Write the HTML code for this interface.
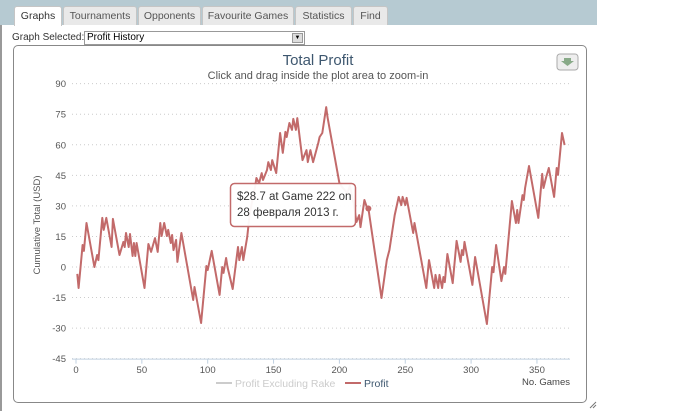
<!DOCTYPE html>
<html><head><meta charset="utf-8">
<style>
body{margin:0;width:700px;height:411px;background:#fff;font-family:"Liberation Sans","DejaVu Sans",sans-serif;position:relative;overflow:hidden}
.topbar{position:absolute;left:0;top:0;width:597px;height:25px;background:#b6cad2}
.tab{position:absolute;top:6px;height:18px;background:#e9e9e9;border:1px solid #c5c5c5;border-bottom:none;border-radius:3px 3px 0 0;font-size:10.5px;color:#555;text-align:center;line-height:18px}
.tab.active{background:#fff;color:#333;height:19px}
.leftline{position:absolute;left:0;top:25px;width:2px;height:386px;background:#999}
.sel-label{position:absolute;left:12px;top:32px;font-size:10px;color:#333}
.select{position:absolute;left:84px;top:31px;width:219px;height:12px;border:1px solid #999;font-size:10px;line-height:12px;padding-left:2px;box-sizing:border-box;width:221px;height:14px}
.select .arr{position:absolute;right:1px;top:1px;width:11px;height:10px;background:#ddd;border:1px solid #999;box-sizing:border-box;font-size:6px;text-align:center;line-height:8px}
.box{position:absolute;left:13px;top:45px;width:572px;height:356px;border:1px solid #888;border-radius:5px}
</style></head><body>
<div class="topbar"></div>
<div class="tab active" style="left:14px;width:46px">Graphs</div>
<div class="tab" style="left:63px;width:72px">Tournaments</div>
<div class="tab" style="left:138px;width:61px">Opponents</div>
<div class="tab" style="left:202px;width:90px">Favourite Games</div>
<div class="tab" style="left:295px;width:55px">Statistics</div>
<div class="tab" style="left:353px;width:33px">Find</div>
<div class="leftline"></div>
<div class="sel-label">Graph Selected:</div>
<div class="select">Profit History<div class="arr">▼</div></div>
<div class="box"></div>
<svg width="700" height="411" style="position:absolute;left:0;top:0" id="chart">
<text x="318" y="65" text-anchor="middle" font-size="15" fill="#3e576f">Total Profit</text>
<text x="318" y="79" text-anchor="middle" font-size="11" fill="#555">Click and drag inside the plot area to zoom-in</text>
<g><rect x="557" y="54" width="21" height="16" rx="3" fill="#eee" stroke="#aaa"/><path d="M564 58h7v3h3l-6.5 5-6.5-5h3z" fill="#8a8"/></g>
<text transform="translate(40,225) rotate(-90)" text-anchor="middle" font-size="9.5" fill="#555">Cumulative Total (USD)</text>
<g id="grid"></g><g id="series"></g>
<text x="570" y="385" text-anchor="end" font-size="9.5" fill="#444">No. Games</text>
<g><line x1="216" y1="383" x2="232" y2="383" stroke="#ccc" stroke-width="2"/><text x="235" y="387" font-size="10.5" fill="#ccc">Profit Excluding Rake</text></g>
<g><line x1="345" y1="383" x2="361" y2="383" stroke="#c26a6a" stroke-width="2"/><text x="364" y="387" font-size="10.5" fill="#3e576f">Profit</text></g>
<g><rect x="230.5" y="183.5" width="125" height="43" rx="4" fill="#fff" fill-opacity="0.95" stroke="#c26a6a" stroke-width="1.5"/><text x="237" y="200" font-size="11.5" fill="#333">$28.7 at Game 222 on</text><text x="237" y="216" font-size="11.5" fill="#333">28 февраля 2013 г.</text></g>
<path d="M590 408l6-6M593 408l3-3" stroke="#777"/>
</svg>
<script>
const games=[1,2,5,6,8,14,16,17,20,21,23,27,28,33,36,37,38,40,41,43,44,45,46,52,55,57,60,62,64,65,67,69,70,72,73,74,76,77,80,89,90,95,99,100,103,109,111,112,114,115,119,123,124,126,127,130,132,136,137,139,141,142,145,146,148,149,152,155,157,159,160,162,164,165,167,168,172,175,176,178,180,184,185,187,190,191,200,202,206,208,211,213,215,216,219,221,222,232,236,237,238,242,245,247,248,250,251,256,257,266,268,272,273,275,276,278,279,280,282,286,289,292,293,294,295,301,303,312,316,317,319,323,325,326,331,334,335,336,339,340,341,344,351,354,355,357,359,363,365,366,369,371];
const profit=[-3.4,-10.3,10.8,7.9,21.6,0,5.9,3.4,24.1,18.2,24.1,9.8,23.6,5.9,12.3,9.8,16.7,9.8,16.2,5.4,11.8,5.4,11.8,-10.3,11.3,7.4,14.2,7.4,21.6,15.2,21.6,15.2,18.2,11.8,15.7,8.3,13.3,2.5,16.7,-16.2,-9.8,-27.5,0.5,-1.5,7.9,-13.7,0,-2.9,4.4,0,-10.8,9.8,3.4,9.8,3.4,14.7,26.5,39.3,43.7,41.2,46.1,42.7,47.6,51.5,47.6,52.5,46.1,65.8,56,66.3,63.8,70.7,67.3,72.7,67.3,73.1,52.5,57.4,51.5,57.4,51.5,60.9,63.8,65.8,78.5,73.6,41.2,39.3,36.3,39.8,30.4,22.1,25.5,19.6,32.9,29,28.7,-15.2,3.4,5.9,8.3,25.5,34.4,30.4,34.4,30.4,33.9,16.7,21.6,-10.3,3.4,-10.3,-3.9,-10.3,-3.9,-10.3,-4.9,-7.4,6.4,-7.9,12.8,2.5,8.3,5.9,12.3,-8.8,4.9,-28,0,-2.5,10.8,-6.9,0,-3.4,32.4,21.6,28,21.6,35.3,32.9,38.8,49.6,24.1,45.7,38.8,44.2,48.6,34.4,48.6,45.2,65.8,59.9];
const yTicks=[90,75,60,45,30,15,0,-15,-30,-45];
const xTicks=[0,50,100,150,200,250,300,350];
const hoverGame=222, hoverValue=28.7;
const X=g=>76+g*1.317;
const Y=v=>267-v*2.037;
const ns="http://www.w3.org/2000/svg";
const grid=document.getElementById('grid');
yTicks.forEach(t=>{
  const l=document.createElementNS(ns,'line');
  
  
  l.setAttribute('x1',72);l.setAttribute('x2',570);l.setAttribute('y1',Y(t));l.setAttribute('y2',Y(t));
  l.setAttribute('stroke','#ccc');l.setAttribute('stroke-dasharray','1,3');
  grid.appendChild(l);
  const tx=document.createElementNS(ns,'text');
  
  
  tx.setAttribute('x',66);tx.setAttribute('y',Y(t)+3.5);tx.setAttribute('text-anchor','end');
  tx.setAttribute('font-size','9.5');tx.setAttribute('fill','#555');tx.textContent=t;
  grid.appendChild(tx);
});
const ax=document.createElementNS(ns,'line');


ax.setAttribute('x1',72);ax.setAttribute('x2',570);ax.setAttribute('y1',Y(-45)+0.5);ax.setAttribute('y2',Y(-45)+0.5);ax.setAttribute('stroke','#c0d0e0');
grid.appendChild(ax);
xTicks.forEach(t=>{
  const tk=document.createElementNS(ns,'line');
  
  
  tk.setAttribute('x1',X(t));tk.setAttribute('x2',X(t));tk.setAttribute('y1',Y(-45));tk.setAttribute('y2',Y(-45)+5);tk.setAttribute('stroke','#c0d0e0');
  grid.appendChild(tk);
  const tx=document.createElementNS(ns,'text');
  
  
  tx.setAttribute('x',X(t));tx.setAttribute('y',373);tx.setAttribute('text-anchor','middle');
  tx.setAttribute('font-size','9.5');tx.setAttribute('fill','#555');tx.textContent=t;
  grid.appendChild(tx);
});
const s=document.getElementById('series');
const p=document.createElementNS(ns,'path');


p.setAttribute('d',games.map((g,i)=>(i?'L':'M')+X(g).toFixed(1)+' '+Y(profit[i]).toFixed(1)).join(''));
p.setAttribute('fill','none');p.setAttribute('stroke','#c26a6a');p.setAttribute('stroke-width','2');p.setAttribute('stroke-linejoin','round');
s.appendChild(p);
const c=document.createElementNS(ns,'circle');


c.setAttribute('cx',X(hoverGame));c.setAttribute('cy',Y(hoverValue));c.setAttribute('r',3);c.setAttribute('fill','#c26a6a');
s.appendChild(c);
</script>
</body></html>
